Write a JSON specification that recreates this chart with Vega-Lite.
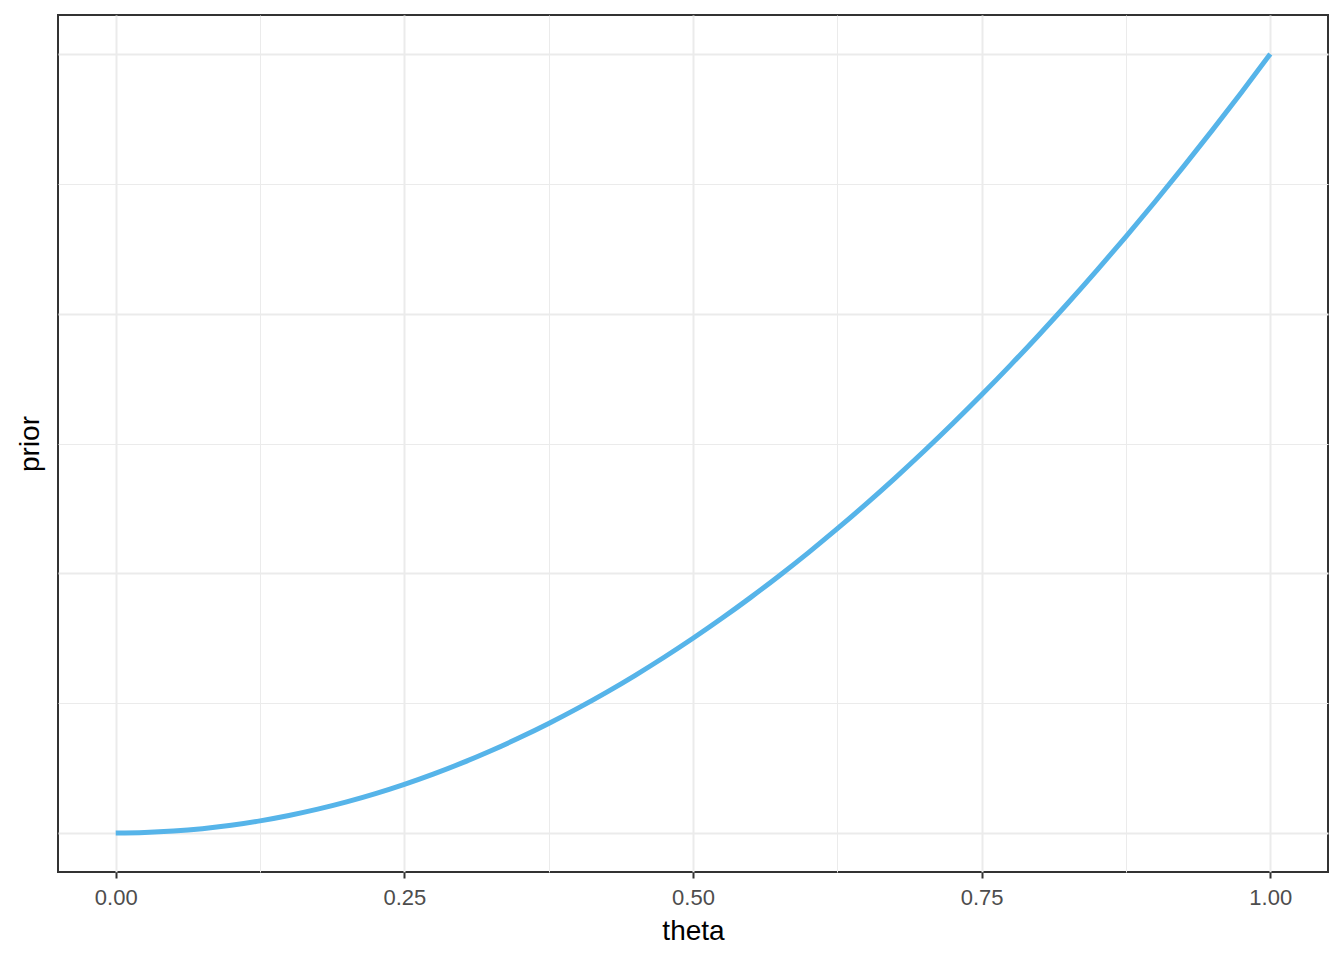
{
  "$schema": "https://vega.github.io/schema/vega-lite/v6.json",
  "width": 1270,
  "height": 857,
  "autosize": {"type": "none"},
  "padding": {"left": 58, "top": 15, "right": 16, "bottom": 88},
  "background": "white",
  "config": {
    "view": {"stroke": "#333333", "strokeWidth": 2},
    "font": "Liberation Sans"
  },
  "data": {
    "values": [
      {"theta": 0, "prior": 0},
      {"theta": 0.025, "prior": 0.001875},
      {"theta": 0.05, "prior": 0.0075},
      {"theta": 0.075, "prior": 0.016875},
      {"theta": 0.1, "prior": 0.03},
      {"theta": 0.125, "prior": 0.046875},
      {"theta": 0.15, "prior": 0.0675},
      {"theta": 0.175, "prior": 0.091875},
      {"theta": 0.2, "prior": 0.12},
      {"theta": 0.225, "prior": 0.151875},
      {"theta": 0.25, "prior": 0.1875},
      {"theta": 0.275, "prior": 0.226875},
      {"theta": 0.3, "prior": 0.27},
      {"theta": 0.325, "prior": 0.316875},
      {"theta": 0.35, "prior": 0.3675},
      {"theta": 0.375, "prior": 0.421875},
      {"theta": 0.4, "prior": 0.48},
      {"theta": 0.425, "prior": 0.541875},
      {"theta": 0.45, "prior": 0.6075},
      {"theta": 0.475, "prior": 0.676875},
      {"theta": 0.5, "prior": 0.75},
      {"theta": 0.525, "prior": 0.826875},
      {"theta": 0.55, "prior": 0.9075},
      {"theta": 0.575, "prior": 0.991875},
      {"theta": 0.6, "prior": 1.08},
      {"theta": 0.625, "prior": 1.171875},
      {"theta": 0.65, "prior": 1.2675},
      {"theta": 0.675, "prior": 1.366875},
      {"theta": 0.7, "prior": 1.47},
      {"theta": 0.725, "prior": 1.576875},
      {"theta": 0.75, "prior": 1.6875},
      {"theta": 0.775, "prior": 1.801875},
      {"theta": 0.8, "prior": 1.92},
      {"theta": 0.825, "prior": 2.041875},
      {"theta": 0.85, "prior": 2.1675},
      {"theta": 0.875, "prior": 2.296875},
      {"theta": 0.9, "prior": 2.43},
      {"theta": 0.925, "prior": 2.566875},
      {"theta": 0.95, "prior": 2.7075},
      {"theta": 0.975, "prior": 2.851875},
      {"theta": 1, "prior": 3}
    ]
  },
  "mark": {"type": "line", "color": "#56B4E9", "strokeWidth": 5, "interpolate": "monotone"},
  "encoding": {
    "x": {
      "field": "theta",
      "type": "quantitative",
      "scale": {"domain": [-0.05, 1.05], "nice": false, "zero": false},
      "axis": {
        "title": "theta",
        "values": [0, 0.125, 0.25, 0.375, 0.5, 0.625, 0.75, 0.875, 1],
        "labelExpr": "(datum.value * 4) % 1 == 0 ? format(datum.value, '.2f') : ''",
        "labelFontSize": 22,
        "labelColor": "#4D4D4D",
        "labelPadding": 9,
        "labelFont": "Liberation Sans",
        "titleFont": "Liberation Sans",
        "titleFontSize": 28,
        "titleFontWeight": "normal",
        "titleColor": "#000000",
        "titlePadding": 9,
        "domain": false,
        "tickSize": 6,
        "tickWidth": 2,
        "tickColor": {"condition": {"test": "(datum.value * 4) % 1 == 0", "value": "#333333"}, "value": "transparent"},
        "gridColor": "#EBEBEB",
        "gridWidth": {"condition": {"test": "(datum.value * 4) % 1 == 0", "value": 2}, "value": 1}
      }
    },
    "y": {
      "field": "prior",
      "type": "quantitative",
      "scale": {"domain": [-0.15, 3.15], "nice": false, "zero": false},
      "axis": {
        "title": "prior",
        "values": [0, 0.5, 1, 1.5, 2, 2.5, 3],
        "labels": false,
        "ticks": false,
        "domain": false,
        "titleFont": "Liberation Sans",
        "titleFontSize": 28,
        "titleFontWeight": "normal",
        "titleColor": "#000000",
        "titlePadding": 14,
        "gridColor": "#EBEBEB",
        "gridWidth": {"condition": {"test": "datum.value % 1 == 0", "value": 2}, "value": 1}
      }
    }
  }
}
